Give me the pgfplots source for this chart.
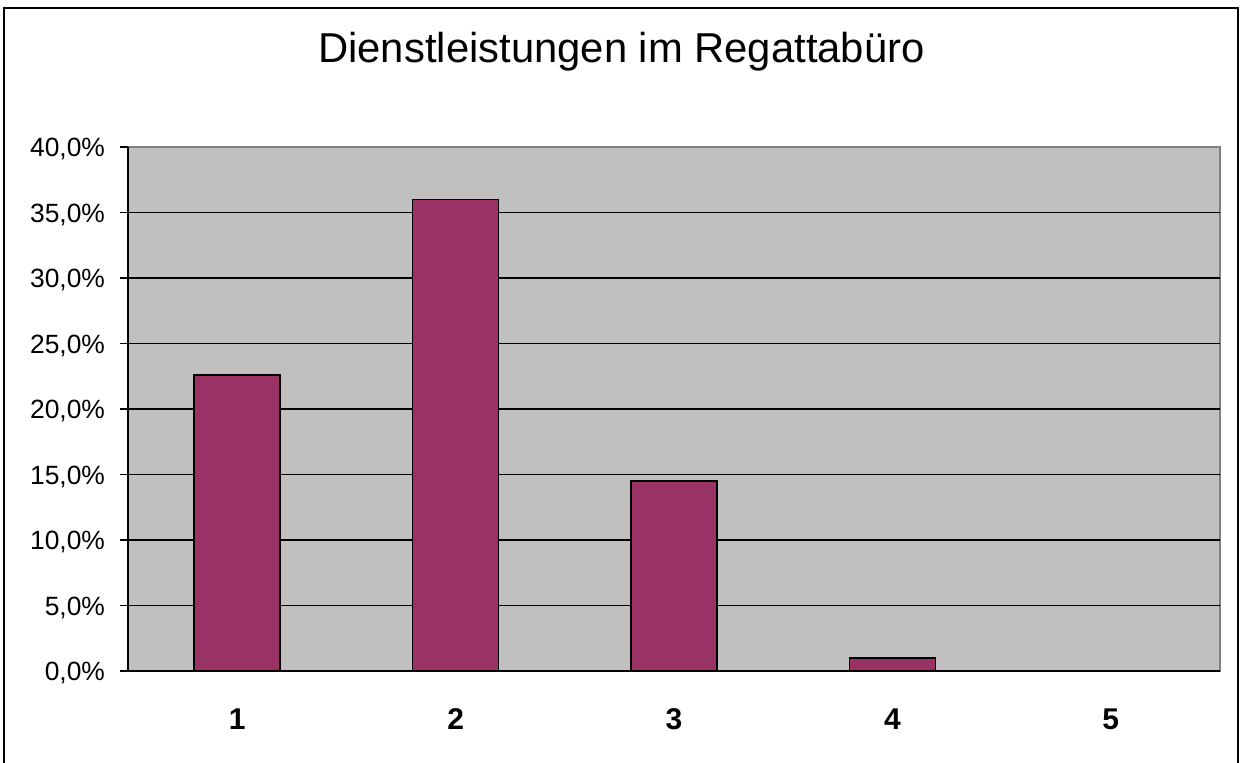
\documentclass[border=0pt]{standalone}
\usepackage{pgfplots}
\pgfplotsset{compat=1.18}
\usepackage{fontspec}
\setmainfont{Liberation Sans}
\definecolor{barc}{HTML}{993366}
\definecolor{bgc}{HTML}{C0C0C0}
\begin{document}
\begin{tikzpicture}[x=1pt,y=1pt]
\path[use as bounding box] (0,0) rectangle (621.5,381);
\draw[line width=1pt] (2,-5) -- (2,377) -- (619,377) -- (619,-5);
\node[anchor=base,font=\fontsize{20.9}{25}\selectfont] at (310.75,349.5) {Dienstleistungen im Regattabüro};
\begin{axis}[
  at={(64pt,45.5pt)}, anchor=origin,
  scale only axis, width=546pt, height=262pt,
  xmin=0.5, xmax=5.5, ymin=0, ymax=40,
  axis lines*=left,
  axis line style={line width=0.8pt, black},
  axis background/.style={fill=bgc, draw=gray, line width=0.8pt},
  ytick={0,5,...,35},
  extra y ticks={40},
  extra y tick style={grid=none},
  ymajorgrids,
  grid style={black, line width=0.7pt},
  xtick={1,2,3,4,5},
  xtick style={draw=none},
  minor xtick={0.5,1.5,...,5.5},
  tick align=outside,
  major tick length=4pt,
  minor tick length=6pt,
  tick style={black, line width=0.8pt},
  /pgf/number format/assume math mode=true,
  yticklabel={\pgfmathprintnumber[fixed,fixed zerofill,precision=1,use comma]{\tick}\%},
  yticklabel style={font=\fontsize{13.2}{16}\selectfont, anchor=east, xshift=-4pt, yshift=-1pt},
  xticklabel style={font=\fontsize{15}{18}\selectfont\bfseries, anchor=north, text height=10.8pt, text depth=0pt, yshift=-11pt},
  ybar, bar width=43pt, bar shift=0pt,
  clip=false,
]
\addplot[fill=barc, draw=black, line width=0.75pt] coordinates {(1,22.6) (2,36.0) (3,14.5) (4,1.0) (5,0)};
\end{axis}
\end{tikzpicture}
\end{document}
